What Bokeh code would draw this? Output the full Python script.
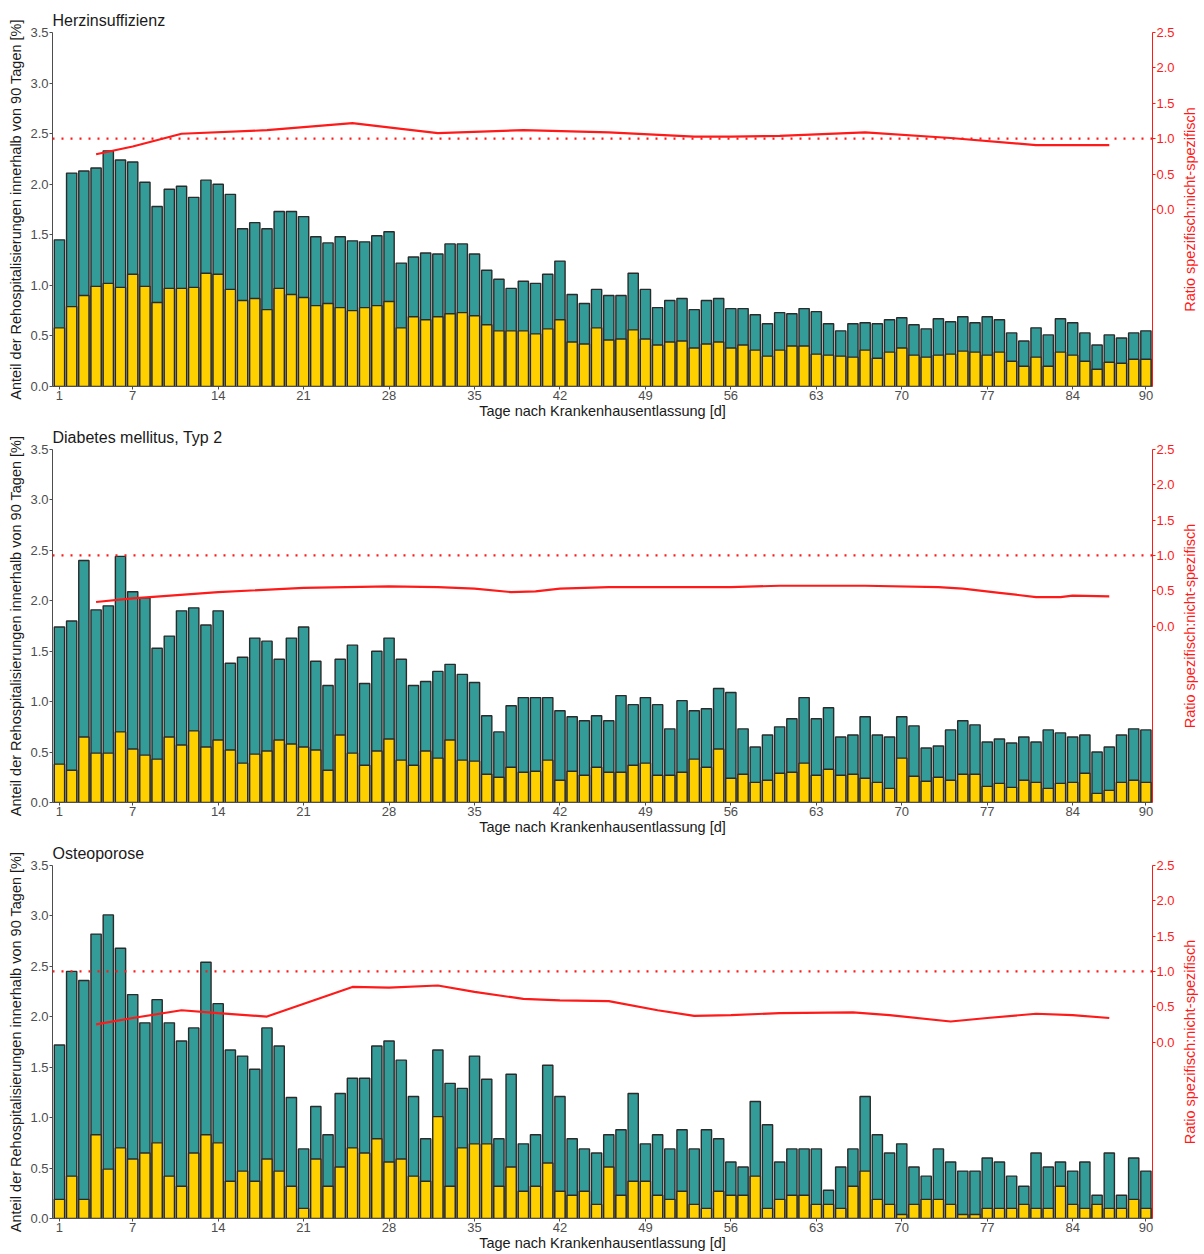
import math

from bokeh.plotting import figure
from bokeh.models import Range1d, LinearAxis, FixedTicker, Span, PrintfTickFormatter
from bokeh.core.properties import value
from bokeh.layouts import column, row
from bokeh.embed import file_html
from bokeh.resources import INLINE

# Tage nach Entlassung
days = list(range(1, 91))
x_ticks = [1, 7, 14, 21, 28, 35, 42, 49, 56, 63, 70, 77, 84, 90]

# Herzinsuffizienz: alle Rehospitalisierungen / spezifische Rehospitalisierungen [%]
herz_total = [1.45, 2.11, 2.13, 2.16, 2.33, 2.24, 2.22, 2.02, 1.78, 1.95,
              1.98, 1.87, 2.04, 2.00, 1.90, 1.56, 1.62, 1.56, 1.73, 1.73,
              1.68, 1.48, 1.42, 1.48, 1.44, 1.43, 1.49, 1.53, 1.22, 1.28,
              1.32, 1.31, 1.41, 1.41, 1.31, 1.15, 1.06, 0.97, 1.04, 1.02,
              1.11, 1.24, 0.91, 0.82, 0.96, 0.90, 0.90, 1.12, 0.96, 0.78,
              0.85, 0.87, 0.76, 0.85, 0.87, 0.77, 0.77, 0.71, 0.62, 0.73,
              0.72, 0.77, 0.74, 0.62, 0.55, 0.62, 0.63, 0.62, 0.66, 0.68,
              0.61, 0.57, 0.67, 0.64, 0.69, 0.63, 0.69, 0.66, 0.53, 0.45,
              0.58, 0.51, 0.67, 0.63, 0.53, 0.41, 0.51, 0.48, 0.53, 0.55]
herz_spec = [0.58, 0.79, 0.90, 0.99, 1.02, 0.98, 1.11, 0.99, 0.83, 0.97,
             0.97, 0.98, 1.12, 1.11, 0.96, 0.85, 0.87, 0.76, 0.97, 0.91,
             0.88, 0.80, 0.82, 0.78, 0.75, 0.78, 0.80, 0.84, 0.58, 0.69,
             0.66, 0.69, 0.72, 0.73, 0.70, 0.61, 0.55, 0.55, 0.55, 0.52,
             0.57, 0.66, 0.44, 0.42, 0.58, 0.46, 0.47, 0.56, 0.47, 0.41,
             0.44, 0.45, 0.38, 0.42, 0.44, 0.38, 0.41, 0.36, 0.30, 0.36,
             0.40, 0.40, 0.32, 0.31, 0.30, 0.29, 0.36, 0.28, 0.34, 0.38,
             0.31, 0.29, 0.31, 0.32, 0.35, 0.34, 0.31, 0.34, 0.25, 0.20,
             0.29, 0.20, 0.34, 0.31, 0.25, 0.17, 0.24, 0.23, 0.27, 0.27]
herz_ratio_days = [4, 7, 11, 18, 25, 29, 32, 39, 46, 53, 56, 60, 67, 74, 81, 87]
herz_ratio = [0.78, 0.89, 1.07, 1.12, 1.22, 1.14, 1.08, 1.12, 1.09, 1.03,
              1.03, 1.04, 1.09, 1.01, 0.91, 0.91]

# Diabetes mellitus, Typ 2
dm_total = [1.74, 1.80, 2.40, 1.91, 1.95, 2.44, 2.09, 2.03, 1.53, 1.65,
            1.90, 1.93, 1.76, 1.90, 1.38, 1.44, 1.63, 1.60, 1.42, 1.63,
            1.74, 1.40, 1.16, 1.42, 1.56, 1.18, 1.50, 1.63, 1.42, 1.16,
            1.20, 1.30, 1.37, 1.27, 1.19, 0.86, 0.70, 0.96, 1.04, 1.04,
            1.04, 0.91, 0.85, 0.81, 0.86, 0.81, 1.06, 0.97, 1.04, 0.97,
            0.73, 1.01, 0.91, 0.93, 1.13, 1.09, 0.73, 0.55, 0.67, 0.75,
            0.83, 1.04, 0.83, 0.94, 0.65, 0.67, 0.85, 0.67, 0.65, 0.85,
            0.76, 0.54, 0.56, 0.72, 0.81, 0.77, 0.60, 0.63, 0.59, 0.65,
            0.60, 0.72, 0.69, 0.65, 0.67, 0.50, 0.55, 0.67, 0.73, 0.72]
dm_spec = [0.38, 0.32, 0.65, 0.49, 0.49, 0.70, 0.53, 0.47, 0.43, 0.65,
           0.57, 0.71, 0.55, 0.62, 0.52, 0.39, 0.48, 0.51, 0.62, 0.58,
           0.55, 0.52, 0.32, 0.67, 0.49, 0.37, 0.51, 0.63, 0.42, 0.37,
           0.51, 0.44, 0.62, 0.42, 0.41, 0.28, 0.25, 0.35, 0.30, 0.31,
           0.42, 0.22, 0.31, 0.27, 0.35, 0.30, 0.30, 0.37, 0.39, 0.27,
           0.27, 0.30, 0.43, 0.35, 0.53, 0.24, 0.28, 0.20, 0.22, 0.29,
           0.30, 0.39, 0.27, 0.33, 0.27, 0.28, 0.24, 0.20, 0.14, 0.44,
           0.26, 0.21, 0.25, 0.22, 0.28, 0.28, 0.16, 0.19, 0.15, 0.22,
           0.20, 0.14, 0.19, 0.20, 0.29, 0.09, 0.12, 0.20, 0.22, 0.20]
dm_ratio_days = [4, 7, 14, 21, 28, 32, 35, 38, 40, 42, 46, 56, 60, 67, 73,
                 75, 78, 81, 83, 84, 87]
dm_ratio = [0.34, 0.39, 0.48, 0.54, 0.56, 0.55, 0.53, 0.48, 0.49, 0.53,
            0.55, 0.55, 0.57, 0.57, 0.55, 0.53, 0.47, 0.41, 0.41, 0.43, 0.42]

# Osteoporose
osteo_total = [1.72, 2.45, 2.36, 2.82, 3.01, 2.68, 2.22, 1.94, 2.17, 1.94,
               1.76, 1.89, 2.54, 2.13, 1.67, 1.61, 1.48, 1.89, 1.71, 1.20,
               0.69, 1.11, 0.83, 1.24, 1.39, 1.39, 1.71, 1.76, 1.57, 1.21,
               0.79, 1.67, 1.34, 1.29, 1.61, 1.38, 0.79, 1.43, 0.74, 0.83,
               1.52, 1.21, 0.79, 0.69, 0.65, 0.83, 0.88, 1.24, 0.74, 0.83,
               0.69, 0.88, 0.69, 0.88, 0.79, 0.56, 0.51, 1.16, 0.93, 0.56,
               0.69, 0.69, 0.69, 0.28, 0.51, 0.69, 1.21, 0.83, 0.65, 0.74,
               0.51, 0.42, 0.69, 0.56, 0.47, 0.47, 0.60, 0.56, 0.42, 0.32,
               0.65, 0.51, 0.56, 0.47, 0.56, 0.23, 0.65, 0.23, 0.60, 0.47]
osteo_spec = [0.19, 0.42, 0.19, 0.83, 0.49, 0.70, 0.59, 0.65, 0.75, 0.42,
              0.32, 0.65, 0.83, 0.75, 0.37, 0.47, 0.37, 0.59, 0.47, 0.32,
              0.10, 0.59, 0.32, 0.51, 0.70, 0.65, 0.79, 0.56, 0.59, 0.42,
              0.37, 1.01, 0.32, 0.70, 0.74, 0.74, 0.32, 0.51, 0.27, 0.32,
              0.55, 0.27, 0.23, 0.27, 0.14, 0.51, 0.23, 0.37, 0.37, 0.23,
              0.19, 0.27, 0.14, 0.10, 0.27, 0.23, 0.23, 0.42, 0.10, 0.19,
              0.23, 0.23, 0.14, 0.14, 0.10, 0.32, 0.47, 0.19, 0.14, 0.04,
              0.14, 0.19, 0.19, 0.14, 0.04, 0.04, 0.10, 0.10, 0.10, 0.14,
              0.10, 0.10, 0.32, 0.14, 0.10, 0.14, 0.10, 0.10, 0.19, 0.10]
osteo_ratio_days = [4, 7, 11, 14, 18, 25, 28, 32, 35, 39, 42, 46, 50, 53, 56,
                    60, 66, 69, 74, 77, 81, 84, 87]
osteo_ratio = [0.25, 0.34, 0.45, 0.41, 0.36, 0.78, 0.77, 0.80, 0.71, 0.61,
               0.59, 0.58, 0.45, 0.37, 0.38, 0.41, 0.42, 0.38, 0.29, 0.34,
               0.40, 0.38, 0.34]

titles = ["Herzinsuffizienz", "Diabetes mellitus, Typ 2", "Osteoporose"]
totals = [herz_total, dm_total, osteo_total]
specs = [herz_spec, dm_spec, osteo_spec]
ratio_days_all = [herz_ratio_days, dm_ratio_days, osteo_ratio_days]
ratios = [herz_ratio, dm_ratio, osteo_ratio]
ratio_title = "Ratio spezifisch:nicht-spezifisch"

FONT = "Liberation Sans"
TEAL = "#339b98"
GOLD = "#ffd000"
EDGE = "#2b2b2b"
GREY = "#4d4d4d"
RED = "#ff1a1a"

MAIN_W = 1178      # chart incl. left axis and red ratio axis
STRIP_W = 26       # narrow strip carrying the ratio axis title
# panel heights and top borders so the three plot areas stack evenly
heights = [422, 416, 416]
tops = [32, 26, 26]
BOTTOM = 36


def style_axis(ax, color, label_color):
    ax.axis_line_color = color
    ax.major_tick_line_color = color
    ax.major_tick_out = 3
    ax.major_tick_in = 0
    ax.minor_tick_line_color = None
    ax.major_label_standoff = 1
    ax.major_label_text_font = FONT
    ax.major_label_text_font_size = "13px"
    ax.major_label_text_color = color
    ax.axis_label_text_font = FONT
    ax.axis_label_text_font_size = "14.5px"
    ax.axis_label_text_font_style = "normal"
    ax.axis_label_text_color = label_color


def panel(i):
    p = figure(width=MAIN_W, height=heights[i], output_backend="svg",
               toolbar_location=None, tools="",
               x_range=Range1d(0.43, 90.54), y_range=Range1d(0, 3.5),
               min_border_left=52, min_border_right=STRIP_W,
               min_border_top=tops[i], min_border_bottom=BOTTOM)
    p.outline_line_color = None
    p.grid.visible = False
    p.background_fill_color = "white"

    p.title.text = titles[i]
    p.title.text_font = FONT
    p.title.text_font_size = "16px"
    p.title.text_font_style = "normal"
    p.title.text_color = "#1a1a1a"
    p.title.align = "left"
    p.title.standoff = 8

    p.extra_y_ranges = {"ratio": Range1d(-2.5, 2.5)}

    p.vbar(x=days, top=totals[i], width=0.84, fill_color=TEAL,
           line_color=EDGE, line_width=1.4)
    p.vbar(x=days, top=specs[i], width=0.84, fill_color=GOLD,
           line_color=EDGE, line_width=1.4)

    p.add_layout(Span(location=1.0, dimension="width", y_range_name="ratio",
                      line_color=RED, line_dash="2 7", line_width=2.2))
    p.line(ratio_days_all[i], ratios[i], y_range_name="ratio",
           line_color=RED, line_width=2.2)

    xa = p.xaxis[0]
    xa.ticker = FixedTicker(ticks=x_ticks)
    xa.axis_label = "Tage nach Krankenhausentlassung [d]"
    style_axis(xa, GREY, "#1a1a1a")
    xa.axis_label_standoff = 0

    ya = p.yaxis[0]
    ya.ticker = FixedTicker(ticks=[0, 0.5, 1.0, 1.5, 2.0, 2.5, 3.0, 3.5])
    ya.formatter = PrintfTickFormatter(format="%.1f")
    ya.axis_label = "Anteil der Rehospitalisierungen innerhalb von 90 Tagen [%]"
    style_axis(ya, GREY, "#1a1a1a")
    ya.axis_label_standoff = 3

    ra = LinearAxis(y_range_name="ratio",
                    ticker=FixedTicker(ticks=[0, 0.5, 1.0, 1.5, 2.0, 2.5]),
                    formatter=PrintfTickFormatter(format="%.1f"))
    style_axis(ra, RED, RED)
    p.add_layout(ra, "right")

    # strip to the right: ratio axis title, read bottom-to-top
    s = figure(width=STRIP_W, height=heights[i], output_backend="svg",
               toolbar_location=None, tools="",
               x_axis_location=None, y_axis_location=None,
               x_range=Range1d(0, 1), y_range=Range1d(0, 1),
               min_border_left=0, min_border_right=0,
               min_border_top=tops[i], min_border_bottom=BOTTOM)
    s.outline_line_color = None
    s.grid.visible = False
    s.text(x=[0.45], y=[0.5], text=[ratio_title], angle=math.pi / 2,
           text_align="center", text_baseline="middle",
           text_font=value(FONT), text_font_size="14.5px", text_color=RED)
    return row(p, s, spacing=0)


layout = column(*[panel(i) for i in range(3)], spacing=0)
open("out.html", "w").write(file_html(layout, INLINE))
